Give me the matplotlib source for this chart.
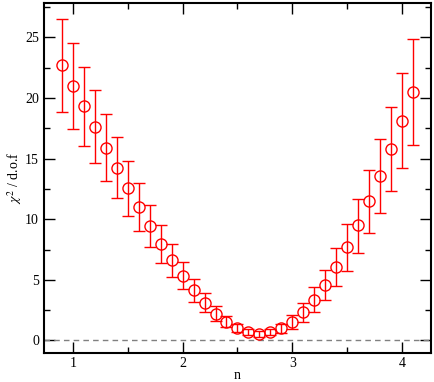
import matplotlib
matplotlib.use("Agg")
import matplotlib.pyplot as plt
from matplotlib.ticker import MultipleLocator

# n values
n = [0.9, 1.0, 1.1, 1.2, 1.3, 1.4, 1.5, 1.6, 1.7, 1.8, 1.9, 2.0, 2.1, 2.2, 2.3, 2.4,
     2.5, 2.6, 2.7, 2.8, 2.9, 3.0, 3.1, 3.2, 3.3, 3.4, 3.5, 3.6, 3.7, 3.8, 3.9, 4.0, 4.1]
chi2 = [22.7, 21.0, 19.3, 17.6, 15.9, 14.2, 12.6, 11.0, 9.46, 7.97, 6.6, 5.28, 4.15, 3.1, 2.2, 1.54,
        1.02, 0.66, 0.53, 0.66, 0.99, 1.54, 2.34, 3.35, 4.59, 6.05, 7.67, 9.51, 11.5, 13.6, 15.8, 18.1, 20.5]
upper = [26.5, 24.57, 22.59, 20.64, 18.66, 16.77, 14.84, 13.0, 11.21, 9.54, 7.95, 6.46, 5.08, 3.88, 2.83, 1.98,
         1.38, 0.94, 0.8, 0.94, 1.38, 2.14, 3.1, 4.37, 5.85, 7.59, 9.59, 11.7, 14.1, 16.6, 19.27, 22.04, 24.9]
lower = [18.87, 17.45, 16.03, 14.6, 13.14, 11.74, 10.3, 8.99, 7.7, 6.43, 5.22, 4.23, 3.16, 2.34, 1.62, 1.1,
         0.66, 0.41, 0.28, 0.41, 0.6, 0.94, 1.51, 2.34, 3.33, 4.46, 5.77, 7.25, 8.85, 10.55, 12.34, 14.21, 16.16]

plt.rcParams['font.family'] = ['Liberation Serif', 'DejaVu Serif']
plt.rcParams['mathtext.fontset'] = 'stix'

fig = plt.figure(figsize=(4.34, 3.82), dpi=100)
ax = fig.add_axes([0.101, 0.077, 0.891, 0.914])

yerr = [[c - l for c, l in zip(chi2, lower)], [u - c for c, u in zip(chi2, upper)]]
ax.errorbar(n, chi2, yerr=yerr, fmt='o', mfc='none', mec='red', color='red',
            ms=8, mew=1, elinewidth=1, capsize=4, capthick=1)
ax.axhline(0, color='gray', ls='--', lw=1, dashes=(4, 3))

ax.set_xlim(0.735, 4.26)
ax.set_ylim(-1, 27.8)
ax.xaxis.set_major_locator(MultipleLocator(1))
ax.xaxis.set_minor_locator(MultipleLocator(0.5))
ax.yaxis.set_major_locator(MultipleLocator(5))
ax.yaxis.set_minor_locator(MultipleLocator(2.5))
ax.tick_params(which='both', direction='in', top=True, right=True, labelsize=10, width=1)
ax.tick_params(which='major', length=8)
ax.tick_params(which='minor', length=4)
for s in ax.spines.values():
    s.set_linewidth(1.5)

ax.set_xlabel("n", fontsize=10, labelpad=-1)
ax.set_ylabel(r"$\chi^2$ / d.o.f", fontsize=10, labelpad=1)

fig.savefig("out.png", dpi=100)
